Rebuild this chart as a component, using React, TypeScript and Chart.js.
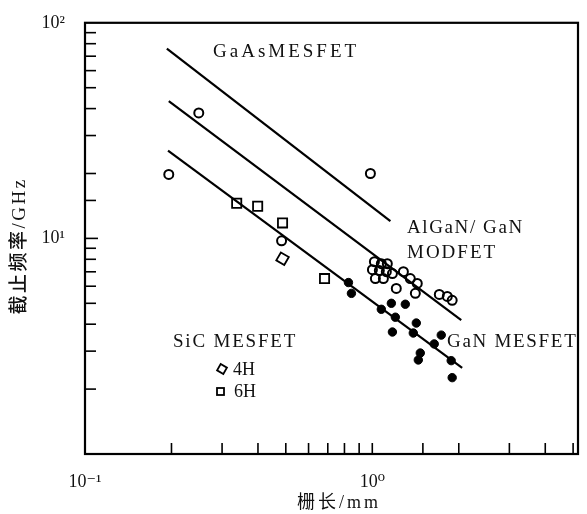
import React, { useEffect, useRef } from 'react';
import { Chart, registerables } from 'chart.js';

Chart.register(...registerables);

// Axis ranges (log-log)
const xMin = 0.1;
const xMax = 5.2;
const yMin = 1;
const yMax = 100;

// Tick labels
const xLabelValues = [0.1, 1];
const xLabelTexts = ['10⁻¹', '10⁰'];
const yLabelValues = [10, 100];
const yLabelTexts = ['10¹', '10²'];

// AlGaN/GaN MODFET (open circles)
const modfetX = [0.1957, 0.2489, 0.4833, 0.985, 1.017, 1.075, 1.128, 1.001, 1.058, 1.119, 1.175, 1.025, 1.093, 1.283, 1.356, 1.434, 1.212, 1.412, 1.711, 1.824, 1.897];
const modfetY = [19.8, 38.2, 9.74, 20.0, 7.8, 7.63, 7.63, 7.16, 7.09, 7.01, 6.87, 6.51, 6.51, 7.01, 6.51, 6.18, 5.86, 5.56, 5.5, 5.38, 5.16];

// GaN MESFET (filled dots)
const ganMesX = [0.826, 0.846, 1.075, 1.165, 1.303, 1.203, 1.423, 1.175, 1.389, 1.738, 1.643, 1.469, 1.446, 1.882, 1.897];
const ganMesY = [6.24, 5.56, 4.69, 5.0, 4.95, 4.31, 4.05, 3.68, 3.64, 3.56, 3.24, 2.94, 2.73, 2.71, 2.26];

// SiC MESFET 6H (squares) and 4H (diamond)
const sic6hX = [0.3373, 0.399, 0.4871, 0.682];
const sic6hY = [14.56, 14.1, 11.8, 6.51];
const sic4hX = [0.4871];
const sic4hY = [8.05];

// Trend lines
const gaasLineX = [0.1927, 1.156];
const gaasLineY = [75.9, 12.04];
const modfetLineX = [0.1957, 2.04];
const modfetLineY = [43.35, 4.175];
const ganLineX = [0.1945, 2.055];
const ganLineY = [25.52, 2.51];

const toPts = (xs: number[], ys: number[]) => xs.map((x, i) => ({ x, y: ys[i] }));

const SERIF = "'Liberation Serif', 'DejaVu Serif', serif";
const CJK = "'Liberation Serif', 'Noto Sans CJK SC', sans-serif";

const matchLabel = (value: number, vals: number[], texts: string[]) => {
  for (let i = 0; i < vals.length; i++) {
    if (Math.abs(Math.log10(value) - Math.log10(vals[i])) < 1e-6) return texts[i];
  }
  return '';
};

const decorPlugin = {
  id: 'decor',
  afterDraw(chart: any) {
    const { ctx, chartArea } = chart;
    const { left, top, right, bottom } = chartArea;
    const xs = chart.scales.x;
    const ys = chart.scales.y;
    ctx.save();
    ctx.strokeStyle = '#000';
    ctx.fillStyle = '#111';
    // frame
    ctx.lineWidth = 2.2;
    ctx.strokeRect(left, top, right - left, bottom - top);
    // inward ticks
    ctx.lineWidth = 1.6;
    ys.ticks.forEach((t: any) => {
      if (t.value <= yMin * 1.0001 || t.value >= yMax * 0.9999) return;
      const p = ys.getPixelForValue(t.value);
      const len = Math.abs(Math.log10(t.value) % 1) < 1e-6 ? 13 : 11;
      ctx.beginPath();
      ctx.moveTo(left, p);
      ctx.lineTo(left + len, p);
      ctx.stroke();
    });
    xs.ticks.forEach((t: any) => {
      if (t.value <= xMin * 1.0001 || t.value >= xMax * 0.97) return;
      const p = xs.getPixelForValue(t.value);
      ctx.beginPath();
      ctx.moveTo(p, bottom);
      ctx.lineTo(p, bottom - 11);
      ctx.stroke();
    });

    // annotations
    const txt = (s: string, x: number, y: number, spacing: number) => {
      (ctx as any).letterSpacing = spacing + 'px';
      ctx.fillText(s, x, y);
      (ctx as any).letterSpacing = '0px';
    };
    ctx.font = `19px ${SERIF}`;
    ctx.textAlign = 'left';
    ctx.textBaseline = 'middle';
    txt('GaAsMESFET', 213, 52, 3);
    txt('AlGaN/ GaN', 407, 228, 1.6);
    txt('MODFET', 407, 253, 2);
    txt('GaN MESFET', 447, 342, 1.7);
    txt('SiC MESFET', 173, 342, 1.8);
    ctx.font = `18px ${SERIF}`;
    txt('4H', 233, 370, 0);
    txt('6H', 234, 392, 0);

    // legend markers
    ctx.lineWidth = 1.8;
    ctx.save();
    ctx.translate(222, 369);
    ctx.rotate((30 * Math.PI) / 180);
    ctx.strokeRect(-3.6, -3.6, 7.2, 7.2);
    ctx.restore();
    ctx.strokeRect(217, 388, 7, 7);

    // axis titles
    ctx.font = `18px ${CJK}`;
    ctx.textAlign = 'center';
    txt('栅长/mm', 339, 503, 3);
    ctx.save();
    ctx.translate(20, 246);
    ctx.rotate(-Math.PI / 2);
    ctx.font = `500 19px ${CJK}`;
    txt('截止频率/GHz', 0, 0, 2.5);
    ctx.restore();
    ctx.restore();
  },
};

export default function App() {
  const ref = useRef<HTMLCanvasElement>(null);
  useEffect(() => {
    const canvas = ref.current;
    if (!canvas) return;
    const lineDs = (xs: number[], ys: number[]) => ({
      data: toPts(xs, ys),
      showLine: true,
      borderColor: '#000',
      borderWidth: 2.2,
      pointRadius: 0,
      fill: false,
    });
    const chart = new Chart(canvas, {
      type: 'scatter',
      data: {
        datasets: [
          lineDs(gaasLineX, gaasLineY),
          lineDs(modfetLineX, modfetLineY),
          lineDs(ganLineX, ganLineY),
          {
            data: toPts(modfetX, modfetY),
            pointStyle: 'circle',
            pointRadius: 4.5,
            borderWidth: 2,
            borderColor: '#000',
            backgroundColor: 'rgba(0,0,0,0)',
          },
          {
            data: toPts(ganMesX, ganMesY),
            pointStyle: 'circle',
            pointRadius: 4.2,
            borderWidth: 1,
            borderColor: '#000',
            backgroundColor: '#000',
          },
          {
            data: toPts(sic6hX, sic6hY),
            pointStyle: 'rect',
            pointRadius: 6.5,
            borderWidth: 1.8,
            borderColor: '#000',
            backgroundColor: 'rgba(0,0,0,0)',
          },
          {
            data: toPts(sic4hX, sic4hY),
            pointStyle: 'rect',
            pointRotation: 30,
            pointRadius: 6.5,
            borderWidth: 1.8,
            borderColor: '#000',
            backgroundColor: 'rgba(0,0,0,0)',
          },
        ] as any,
      },
      options: {
        animation: false,
        responsive: false,
        devicePixelRatio: 1,
        layout: { padding: { left: 0, top: 19, right: 8, bottom: 0 } },
        plugins: { legend: { display: false }, tooltip: { enabled: false } },
        scales: {
          x: {
            type: 'logarithmic',
            min: xMin,
            max: xMax,
            grid: { display: false },
            border: { display: false },
            ticks: {
              autoSkip: false,
              maxRotation: 0,
              padding: 9,
              color: '#111',
              font: { family: SERIF, size: 18 },
              callback: (v: any) => matchLabel(Number(v), xLabelValues, xLabelTexts),
            },
            afterFit: (s: any) => {
              s.height = 60;
            },
          },
          y: {
            type: 'logarithmic',
            min: yMin,
            max: yMax,
            grid: { display: false },
            border: { display: false },
            ticks: {
              autoSkip: false,
              padding: 12,
              color: '#111',
              font: { family: SERIF, size: 18 },
              callback: (v: any) => matchLabel(Number(v), yLabelValues, yLabelTexts),
            },
            afterFit: (s: any) => {
              s.width = 85;
            },
          },
        },
      } as any,
      plugins: [decorPlugin],
    });
    return () => chart.destroy();
  }, []);
  return (
    <canvas
      ref={ref}
      width={587}
      height={514}
      style={{ position: 'absolute', left: 0, top: 0, width: 587, height: 514, background: '#fff' }}
    />
  );
}
